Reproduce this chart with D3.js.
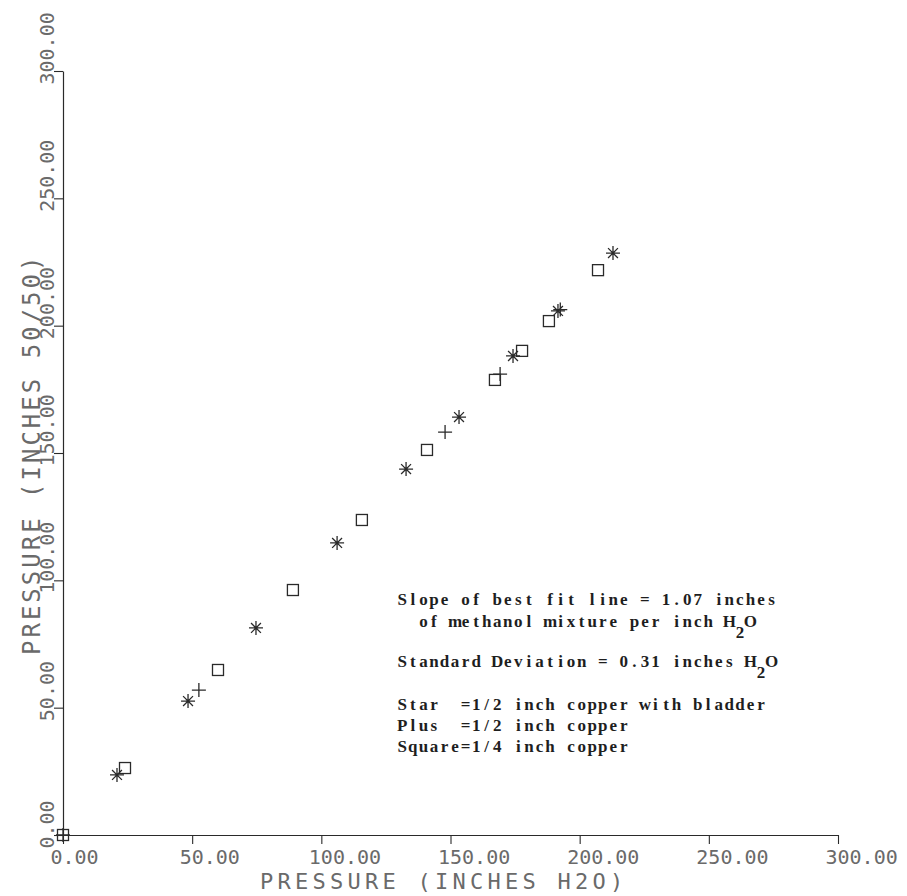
<!DOCTYPE html>
<html>
<head>
<meta charset="utf-8">
<script src="https://cdn.jsdelivr.net/npm/d3@7"></script>
<style>
  html, body { margin: 0; padding: 0; background: #fff; }
  svg { display: block; }
</style>
</head>
<body>
<script>
// Calibration readings: manometer pressure (methanol mixture) vs water column
const starX   = [20.9, 48.4, 74.7, 106.1, 132.8, 153.3, 174.2, 191.6, 212.9];
const starY   = [23.6, 52.6, 81.3, 114.7, 143.7, 164.1, 188.1, 205.8, 228.5];
const plusX   = [0, 52.6, 147.9, 169.2, 192.5];
const plusY   = [0, 56.9, 158.2, 181.0, 206.3];
const squareX = [0, 24.0, 60.0, 89.0, 115.7, 140.9, 167.2, 177.7, 188.1, 207.1];
const squareY = [0, 26.3, 64.8, 96.2, 123.7, 151.2, 178.7, 190.1, 201.8, 221.8];

const xTicks = [0, 50, 100, 150, 200, 250, 300];
const yTicks = [0, 50, 100, 150, 200, 250, 300];
const xTitle = "PRESSURE (INCHES H2O)";
const yTitle = "PRESSURE (INCHES 50/50)";

// Typed annotation; "₂" marks a lowered subscript character
const noteLines = [
  "Slope of best fit line = 1.07 inches",
  "  of methanol mixture per inch H₂O",
  "",
  "Standard Deviation = 0.31 inches H₂O",
  "",
  "Star  =1/2 inch copper with bladder",
  "Plus  =1/2 inch copper",
  "Square=1/4 inch copper"
];

const W = 907, H = 896;
const svg = d3.select("body").append("svg").attr("width", W).attr("height", H);
svg.append("rect").attr("width", W).attr("height", H).attr("fill", "#fff");

const x = d3.scaleLinear().domain([0, 300]).range([63, 838]);
const y = d3.scaleLinear().domain([0, 300]).range([835, 71]);
const fmt = d3.format(".2f");

const axisFont = "'DejaVu Sans Mono', monospace";
const axisInk = "#6a6a6a";
const lineInk = "#2a2a2a";

// X axis
const gx = svg.append("g").attr("transform", `translate(0,${y(0)})`)
  .call(d3.axisBottom(x).tickValues(xTicks).tickFormat(fmt).tickSize(9).tickSizeOuter(0));
gx.select(".domain").attr("stroke", lineInk).attr("stroke-width", 1.2);
gx.selectAll(".tick line").attr("stroke", lineInk).attr("stroke-width", 1.1);
gx.selectAll(".tick text")
  .attr("x", -13).attr("y", 29).attr("dy", 0)
  .attr("text-anchor", "start")
  .attr("font-family", axisFont).attr("font-size", 20)
  .attr("fill", axisInk);

// Y axis
const gy = svg.append("g").attr("transform", `translate(${x(0)},0)`)
  .call(d3.axisLeft(y).tickValues(yTicks).tickFormat(fmt).tickSize(9).tickSizeOuter(0));
gy.select(".domain").attr("stroke", lineInk).attr("stroke-width", 1.2);
gy.selectAll(".tick line").attr("stroke", lineInk).attr("stroke-width", 1.1);
gy.selectAll(".tick text")
  .attr("x", 0).attr("y", 0).attr("dy", 0)
  .attr("text-anchor", "start")
  .attr("transform", "translate(-9,13) rotate(-90)")
  .attr("font-family", axisFont).attr("font-size", 20)
  .attr("fill", axisInk);

// Axis titles
svg.append("text")
  .attr("x", 260).attr("y", 889)
  .attr("font-family", axisFont).attr("font-size", 22)
  .attr("letter-spacing", 4.25)
  .attr("fill", axisInk)
  .text(xTitle);

svg.append("text")
  .attr("transform", "translate(40,655) rotate(-90)")
  .attr("font-family", axisFont).attr("font-size", 24)
  .attr("letter-spacing", 3)
  .attr("fill", axisInk)
  .text(yTitle);

// Markers
const marks = svg.append("g")
  .attr("stroke", lineInk).attr("stroke-width", 1.3).attr("fill", "none");

const stars = d3.zip(starX, starY);
const pluses = d3.zip(plusX, plusY);
const squares = d3.zip(squareX, squareY);

const r = 7;
const starPath = (cx, cy) => {
  const d = r * Math.SQRT1_2;
  return `M${cx - r},${cy}H${cx + r}M${cx},${cy - r}V${cy + r}` +
         `M${cx - d},${cy - d}L${cx + d},${cy + d}M${cx - d},${cy + d}L${cx + d},${cy - d}`;
};
const plusPath = (cx, cy) => `M${cx - r},${cy}H${cx + r}M${cx},${cy - r}V${cy + r}`;

marks.selectAll("path.star").data(stars).join("path")
  .attr("class", "star")
  .attr("d", d => starPath(x(d[0]), y(d[1])));

marks.selectAll("path.plus").data(pluses).join("path")
  .attr("class", "plus")
  .attr("d", d => plusPath(x(d[0]), y(d[1])));

const s = 11;
marks.selectAll("rect.square").data(squares).join("rect")
  .attr("class", "square")
  .attr("x", d => x(d[0]) - s / 2).attr("y", d => y(d[1]) - s / 2)
  .attr("width", s).attr("height", s);

// Fixed-pitch typed note block
const pitch = 10.55;
const noteX = 397;
const noteBaselines = [605, 627, 0, 667, 0, 710, 731, 752];
const note = svg.append("g")
  .attr("font-family", "'Liberation Serif', 'Times New Roman', serif")
  .attr("font-weight", "bold")
  .attr("font-size", 17)
  .attr("fill", "#1e1e1e")
  .attr("text-anchor", "middle");

noteLines.forEach((line, i) => {
  if (!line) return;
  const chars = Array.from(line);
  const base = noteBaselines[i];
  chars.forEach((ch, k) => {
    if (ch === " ") return;
    const sub = ch === "₂";
    note.append("text")
      .attr("x", noteX + (k + 0.5) * pitch)
      .attr("y", base + (sub ? 11 : 0))
      .text(sub ? "2" : ch);
  });
});
</script>
</body>
</html>
